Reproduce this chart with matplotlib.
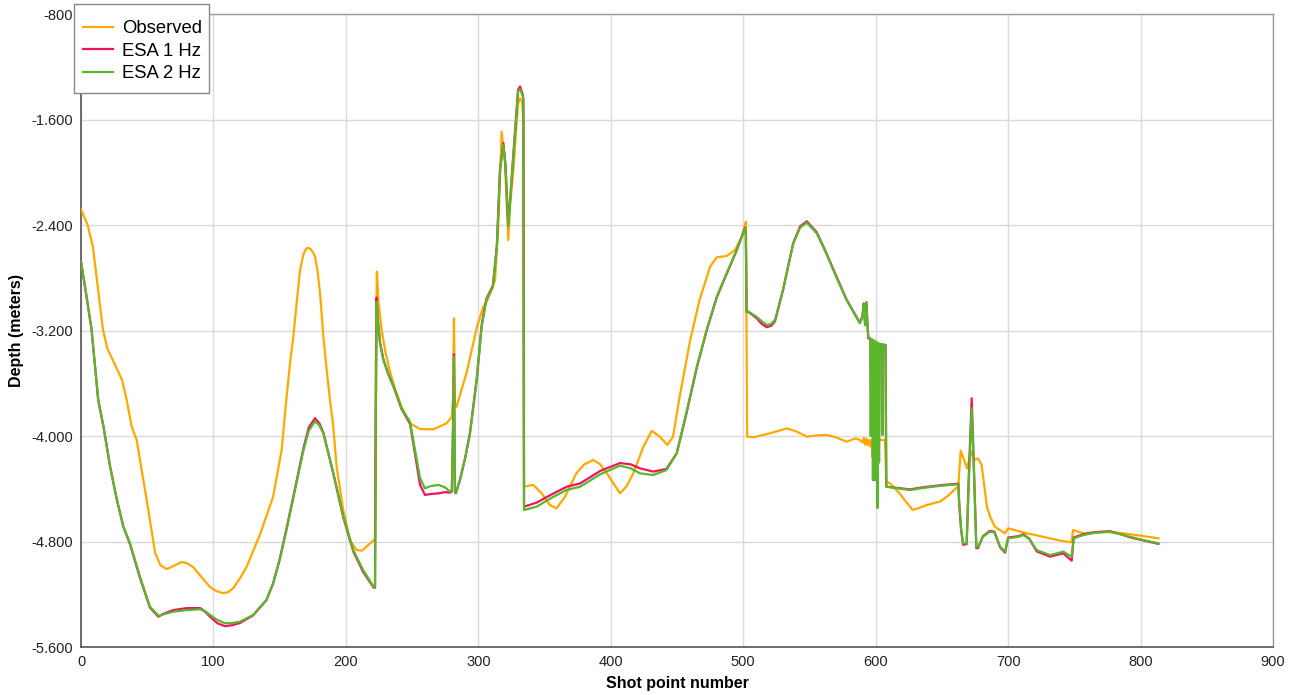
import matplotlib
matplotlib.use("Agg")
import matplotlib.pyplot as plt
from matplotlib.patches import Rectangle
from matplotlib.ticker import FuncFormatter, MultipleLocator

# ---------------- data ----------------
obs_x = [0, 5, 9, 13, 16.6, 20, 24, 31, 34.5, 38.3,
         42, 49.6, 56, 60, 64.7, 70, 76, 80, 84.6, 91,
         97.4, 102, 107, 111, 115, 120, 125, 135, 145, 151.5,
         155, 158, 160.3, 162.8, 165.4, 168, 170, 171.7, 173.5, 175,
         176.7, 178.5, 180.5, 183, 185.5, 188, 190.5, 193, 198, 203,
         208, 212, 216, 220.6, 222, 222.5, 223.4, 224.5, 227, 230,
         233, 237, 242, 248, 256, 266, 276, 280, 281, 281.6,
         282.3, 283.6, 287, 291, 295, 299, 303.8, 306, 309, 312.6,
         315, 317.6, 320, 322.6, 324, 326.4, 330, 331.5, 333, 334,
         334.5, 341.5, 347.8, 354, 359, 365.4, 374, 380, 386.8, 392,
         397, 402, 407, 412, 417, 424.6, 431, 437, 442.7, 447,
         452, 460, 467, 475, 480, 487.5, 493.8, 498.9, 502, 502.5,
         503, 507.6, 520, 533, 540, 548, 556, 563, 570, 578,
         585, 588, 590, 591, 592, 593, 594, 595, 596, 597,
         597.5, 598, 599, 599.5, 601, 607, 608, 611, 618, 623,
         628, 633, 638.5, 648.6, 655, 662.4, 664.2, 669, 672, 674.5,
         677.3, 680, 684, 686.4, 690, 697.7, 700, 714, 720, 731.7,
         740, 748, 749, 756.8, 772, 787, 800, 813.5]
obs_y = [-2280, -2400, -2567, -2900, -3196, -3340, -3424, -3575, -3727, -3930,
         -4030, -4485, -4887, -4980, -5009, -4985, -4955, -4965, -4993, -5070,
         -5145, -5175, -5191, -5185, -5153, -5080, -4993, -4751, -4463, -4106,
         -3727, -3430, -3247, -2994, -2741, -2620, -2580, -2572, -2585, -2605,
         -2640, -2740, -2918, -3247, -3500, -3727, -3930, -4233, -4561, -4789,
         -4865, -4870, -4835, -4794, -4780, -3500, -2754, -2969, -3196, -3370,
         -3500, -3640, -3778, -3902, -3947, -3950, -3904, -3854, -3700, -3108,
         -3750, -3778, -3660, -3525, -3350, -3171, -3020, -2990, -2918, -2817,
         -2413, -1692, -1907, -2514, -2250, -1990, -1480, -1440, -1460, -1600,
         -4384, -4371, -4435, -4523, -4549, -4461, -4283, -4215, -4182, -4215,
         -4283, -4360, -4435, -4380, -4283, -4081, -3960, -4005, -4068, -4005,
         -3702, -3272, -2969, -2716, -2645, -2635, -2590, -2489, -2375, -3200,
         -4005, -4010, -3980, -3942, -3965, -4005, -3995, -3992, -4010, -4043,
         -4018, -4030, -4050, -4015, -4065, -4020, -4070, -4030, -4080, -4030,
         -4157, -4040, -4334, -4040, -4030, -4030, -4346, -4359, -4435, -4500,
         -4561, -4545, -4523, -4498, -4450, -4380, -4111, -4245, -4119, -4182,
         -4170, -4220, -4536, -4612, -4688, -4738, -4700, -4738, -4750, -4776,
         -4795, -4806, -4713, -4738, -4726, -4738, -4756, -4776]

esa_x = [0, 4, 8, 13, 17, 22, 27, 32, 37, 44.5,
         52, 58.4, 63, 69.7, 79.8, 90, 94, 97.4, 103, 108.7,
         114, 120, 130, 140, 145, 150, 155, 160, 168, 172,
         176.7, 180, 183, 190.5, 198, 205.6, 213, 221, 222, 222.5,
         223.2, 224, 225.8, 228.3, 232, 236, 242, 248.4, 253.5, 256,
         259.7, 264, 270, 275, 278.6, 280, 281, 281.6, 282.3, 283,
         286, 290, 293.7, 298.8, 302.5, 306, 311, 314, 316.4, 318.9,
         320.5, 322.6, 324.5, 326.4, 330, 331.5, 333.5, 334, 334.5, 344,
         355, 366.7, 376.8, 392, 407, 415, 422, 432, 442, 449.8,
         457, 465, 472.4, 480, 487.5, 495, 501.4, 502, 502.5, 504,
         510, 514, 517.7, 521, 524, 530, 537.8, 543, 548, 555.5,
         562, 568, 578, 588, 590, 591, 592, 593, 594, 594.5,
         596, 596.4, 596.8, 597.6, 598, 598.4, 599.2, 599.6, 600, 601,
         601.5, 602, 602.5, 603, 604.8, 605.2, 605.6, 607.5, 608, 626,
         635, 643.5, 652, 662.4, 663, 664.5, 666, 668.7, 670.5, 672.5,
         674, 676, 677.3, 681, 686, 689.6, 694, 697.7, 700, 707.8,
         711.5, 716, 721.6, 731.7, 741.7, 748, 749.5, 756.8, 765, 777,
         785, 792, 802, 813.5]
esa2_y = [-2678, -2930, -3196, -3727, -3930, -4233, -4480, -4688, -4814, -5067,
          -5294, -5363, -5350, -5332, -5320, -5314, -5330, -5357, -5395, -5420,
          -5418, -5408, -5357, -5244, -5120, -4940, -4720, -4485, -4106, -3960,
          -3888, -3920, -3980, -4283, -4612, -4865, -5016, -5143, -5143, -4000,
          -2982, -3120, -3297, -3424, -3530, -3626, -3790, -3892, -4182, -4320,
          -4397, -4380, -4371, -4390, -4422, -4410, -3900, -3399, -4420, -4430,
          -4334, -4170, -3980, -3575, -3171, -2969, -2868, -2565, -1983, -1793,
          -1950, -2413, -2150, -1882, -1389, -1371, -1420, -1452, -4561, -4536,
          -4470, -4409, -4385, -4290, -4225, -4245, -4283, -4296, -4258, -4131,
          -3828, -3474, -3196, -2944, -2766, -2590, -2425, -2470, -3057, -3057,
          -3095, -3130, -3158, -3150, -3120, -2893, -2539, -2420, -2382, -2463,
          -2600, -2741, -2969, -3145, -3100, -3000, -3160, -2990, -3200, -3247,
          -3260, -4000, -3265, -3270, -4334, -3275, -3280, -4334, -3285, -3290,
          -4546, -3295, -4200, -3300, -3305, -3990, -3305, -3310, -4384, -4410,
          -4395, -4384, -4375, -4366, -4500, -4700, -4814, -4814, -4300, -3790,
          -4200, -4840, -4840, -4764, -4726, -4730, -4840, -4877, -4776, -4764,
          -4751, -4780, -4865, -4903, -4877, -4915, -4776, -4751, -4735, -4726,
          -4745, -4764, -4789, -4814]
esa1_y = [-2678, -2930, -3196, -3727, -3930, -4233, -4480, -4688, -4820, -5075,
          -5300, -5370, -5345, -5320, -5305, -5305, -5335, -5370, -5420, -5442,
          -5435, -5418, -5360, -5244, -5120, -4935, -4710, -4475, -4090, -3935,
          -3865, -3905, -3975, -4283, -4615, -4875, -5030, -5150, -5150, -4000,
          -2950, -3100, -3290, -3420, -3530, -3626, -3795, -3905, -4215, -4370,
          -4447, -4440, -4435, -4425, -4430, -4420, -3850, -3380, -4425, -4435,
          -4340, -4170, -3975, -3565, -3160, -2960, -2860, -2555, -1970, -1780,
          -1945, -2400, -2140, -1870, -1375, -1350, -1410, -1452, -4536, -4505,
          -4445, -4385, -4360, -4265, -4205, -4215, -4245, -4270, -4250, -4131,
          -3835, -3480, -3200, -2950, -2770, -2595, -2420, -2470, -3057, -3060,
          -3105, -3150, -3175, -3165, -3130, -2895, -2535, -2410, -2372, -2455,
          -2595, -2735, -2965, -3140, -3090, -2995, -3150, -2985, -3190, -3260,
          -3265, -4000, -3270, -3275, -4334, -3280, -3285, -4334, -3290, -3295,
          -4540, -3300, -4200, -3305, -3310, -3990, -3310, -3310, -4384, -4405,
          -4390, -4380, -4370, -4362, -4500, -4710, -4825, -4820, -4250, -3714,
          -4180, -4850, -4850, -4760, -4720, -4725, -4845, -4885, -4770, -4760,
          -4745, -4780, -4875, -4915, -4890, -4945, -4770, -4745, -4730, -4722,
          -4745, -4768, -4792, -4818]

series_names = ["Observed", "ESA 1 Hz", "ESA 2 Hz"]
series_colors = ["#FFA800", "#F2135F", "#56B82A"]

x_label = "Shot point number"
y_label = "Depth (meters)"

# ---------------- plot ----------------
plt.rcParams['font.family'] = ['Liberation Sans', 'DejaVu Sans']

W, H = 1300, 695
fig = plt.figure(figsize=(W / 100, H / 100), dpi=100)
ax = fig.add_axes([81 / W, 1 - 647 / H, (1273 - 81) / W, (647 - 14) / H])

l0, = ax.plot(obs_x, obs_y, color=series_colors[0], lw=1.6, label=series_names[0], zorder=3)
l1, = ax.plot(esa_x, esa1_y, color=series_colors[1], lw=1.6, label=series_names[1], zorder=4)
l2, = ax.plot(esa_x, esa2_y, color=series_colors[2], lw=1.6, label=series_names[2], zorder=5)

ax.set_xlim(0, 900)
ax.set_ylim(-5600, -800)
ax.xaxis.set_major_locator(MultipleLocator(100))
ax.yaxis.set_major_locator(MultipleLocator(800))
ax.yaxis.set_major_formatter(FuncFormatter(lambda v, p: f"{int(round(v)):,}".replace(",", ".")))

ax.grid(True, color="#DADADA", lw=1.0, zorder=0)
ax.tick_params(axis="both", length=0, labelsize=10.5, colors="#222222", pad=6)
for s in ["top", "right"]:
    ax.spines[s].set_color("#9A9A9A")
    ax.spines[s].set_linewidth(1.0)
for s in ["left", "bottom"]:
    ax.spines[s].set_color("#555555")
    ax.spines[s].set_linewidth(1.2)

ax.set_xlabel(x_label, fontsize=11.5, fontweight="bold", labelpad=5)
ax.set_ylabel(y_label, fontsize=11.5, fontweight="bold", labelpad=5)

# legend box (frame drawn separately to match the reference proportions)
box = Rectangle((74 / W, 1 - 93 / H), 135 / W, 89 / H, transform=fig.transFigure,
                facecolor="white", edgecolor="#888888", lw=1.0, zorder=5)
fig.patches.append(box)
leg = fig.legend(handles=[l0, l1, l2], loc="upper left",
                 bbox_to_anchor=(74 / W, 1 - 11 / H), fontsize=13.3, frameon=False,
                 handlelength=1.6, handletextpad=0.5, borderpad=0.5, labelspacing=0.3,
                 borderaxespad=0)
leg.set_zorder(6)

fig.savefig("out.png", dpi=100)
